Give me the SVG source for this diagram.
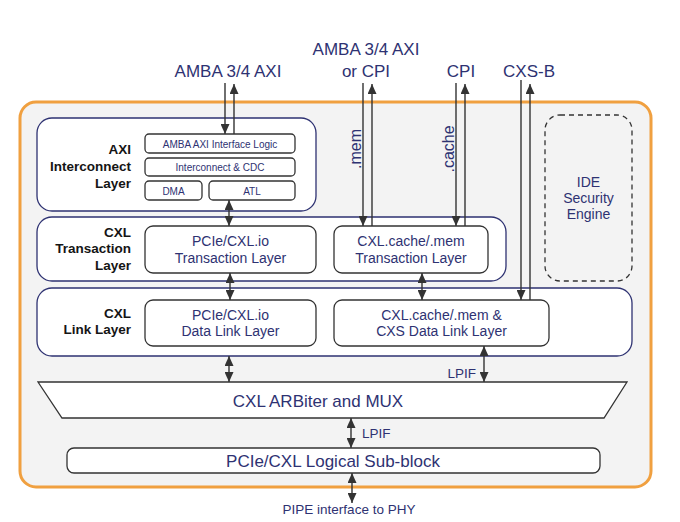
<svg xmlns="http://www.w3.org/2000/svg" width="680" height="522" viewBox="0 0 680 522">
<defs>
<marker id="ah" viewBox="0 0 10 9" refX="10" refY="4.5" markerWidth="10" markerHeight="9" markerUnits="userSpaceOnUse" orient="auto-start-reverse">
<path d="M0,0 L10,4.5 L0,9 z" fill="#333"/>
</marker>
</defs>
<style>
.t{font-family:"Liberation Sans",Arial,sans-serif;fill:#2e3272}
.b{font-family:"Liberation Sans",Arial,sans-serif;font-weight:bold;fill:#151515;font-size:13.5px;text-anchor:end}
.layer{fill:#fff;stroke:#2e3272;stroke-width:1.3}
.box{fill:#fff;stroke:#333;stroke-width:1.3}
.c{stroke:#333;stroke-width:1.4;fill:none}
.one{marker-end:url(#ah)}
.two{marker-start:url(#ah);marker-end:url(#ah)}
</style>
<rect width="680" height="522" fill="#fff"/>

<g id="outer">
<rect x="20" y="102" width="631" height="385" rx="16" fill="#f3f3f3" stroke="#f0a040" stroke-width="3"/>
</g>

<g id="labels-top">
<text class="t" x="228" y="77" font-size="17" text-anchor="middle">AMBA 3/4 AXI</text>
<text class="t" x="366" y="55" font-size="17" text-anchor="middle">AMBA 3/4 AXI</text>
<text class="t" x="366" y="77" font-size="17" text-anchor="middle">or CPI</text>
<text class="t" x="461" y="77" font-size="17" text-anchor="middle">CPI</text>
<text class="t" x="529" y="77" font-size="17" text-anchor="middle">CXS-B</text>
</g>

<g id="axi-layer">
<rect class="layer" x="37" y="118" width="279" height="93" rx="15"/>
<text class="b" x="131" y="154">AXI</text>
<text class="b" x="131" y="171">Interconnect</text>
<text class="b" x="131" y="188">Layer</text>
</g>
<g id="amba-if">
<rect class="box" x="145" y="134" width="150" height="19" rx="4"/>
<text class="t" x="220" y="147.5" font-size="10" text-anchor="middle">AMBA AXI Interface Logic</text>
</g>
<g id="interconnect">
<rect class="box" x="145" y="158" width="150" height="18" rx="4"/>
<text class="t" x="220" y="171" font-size="10" text-anchor="middle">Interconnect &amp; CDC</text>
</g>
<g id="dma">
<rect class="box" x="145" y="181" width="57" height="19" rx="4"/>
<text class="t" x="173.5" y="194.5" font-size="10" text-anchor="middle">DMA</text>
</g>
<g id="atl">
<rect class="box" x="209" y="181" width="86" height="19" rx="4"/>
<text class="t" x="252" y="194.5" font-size="10" text-anchor="middle">ATL</text>
</g>

<g id="txn-layer">
<rect class="layer" x="37" y="217" width="469" height="64" rx="15"/>
<text class="b" x="131" y="237">CXL</text>
<text class="b" x="131" y="253">Transaction</text>
<text class="b" x="131" y="270">Layer</text>
</g>
<g id="io-txn">
<rect class="box" x="145" y="226" width="171" height="47" rx="8"/>
<text class="t" x="230.5" y="246" font-size="14" text-anchor="middle">PCIe/CXL.io</text>
<text class="t" x="230.5" y="263" font-size="14" text-anchor="middle">Transaction Layer</text>
</g>
<g id="cm-txn">
<rect class="box" x="334" y="226" width="154" height="47" rx="8"/>
<text class="t" x="411" y="246" font-size="14" text-anchor="middle">CXL.cache/.mem</text>
<text class="t" x="411" y="263" font-size="14" text-anchor="middle">Transaction Layer</text>
</g>

<g id="ide">
<rect x="545" y="115" width="87" height="166" rx="15" fill="none" stroke="#333" stroke-width="1.3" stroke-dasharray="5,4"/>
<text class="t" x="588.5" y="187" font-size="14" text-anchor="middle">IDE</text>
<text class="t" x="588.5" y="203" font-size="14" text-anchor="middle">Security</text>
<text class="t" x="588.5" y="219" font-size="14" text-anchor="middle">Engine</text>
</g>

<g id="link-layer">
<rect class="layer" x="37" y="288" width="595" height="68" rx="15"/>
<text class="b" x="131" y="318">CXL</text>
<text class="b" x="131" y="334">Link Layer</text>
</g>
<g id="io-dll">
<rect class="box" x="145" y="300" width="171" height="46" rx="8"/>
<text class="t" x="230.5" y="320" font-size="14" text-anchor="middle">PCIe/CXL.io</text>
<text class="t" x="230.5" y="336" font-size="14" text-anchor="middle">Data Link Layer</text>
</g>
<g id="cm-dll">
<rect class="box" x="334" y="300" width="215" height="46" rx="8"/>
<text class="t" x="441.5" y="320" font-size="14" text-anchor="middle">CXL.cache/.mem &amp;</text>
<text class="t" x="441.5" y="336" font-size="14" text-anchor="middle">CXS Data Link Layer</text>
</g>

<g id="arbiter">
<path d="M38,382 L627,382 L604,418 L62,418 z" fill="#fff" stroke="#333" stroke-width="1.3"/>
<text class="t" x="318" y="407" font-size="17" text-anchor="middle">CXL ARBiter and MUX</text>
</g>

<g id="logical">
<rect class="box" x="67" y="448" width="533" height="25" rx="7"/>
<text class="t" x="333" y="467" font-size="17" text-anchor="middle">PCIe/CXL Logical Sub-block</text>
</g>

<g id="connectors">
<line class="c one" x1="225" y1="83" x2="225" y2="134"/>
<line class="c one" x1="234" y1="134" x2="234" y2="84"/>
<line class="c two" x1="229" y1="200" x2="229" y2="226"/>
<line class="c two" x1="230" y1="273" x2="230" y2="300"/>
<line class="c two" x1="229" y1="356" x2="229" y2="382"/>
<line class="c one" x1="363" y1="83" x2="363" y2="226"/>
<line class="c one" x1="372" y1="226" x2="372" y2="84"/>
<line class="c one" x1="456" y1="83" x2="456" y2="226"/>
<line class="c one" x1="465" y1="226" x2="465" y2="84"/>
<line class="c one" x1="521" y1="80" x2="521" y2="300"/>
<line class="c one" x1="530" y1="300" x2="530" y2="84"/>
<line class="c two" x1="422" y1="273" x2="422" y2="300"/>
<line class="c two" x1="484" y1="346" x2="484" y2="382"/>
<line class="c two" x1="351" y1="418" x2="351" y2="448"/>
<line class="c two" x1="352" y1="473" x2="352" y2="503"/>
<text class="t" font-size="16" text-anchor="middle" transform="translate(361,149) rotate(-90)">.mem</text>
<text class="t" font-size="16" text-anchor="middle" transform="translate(454,149) rotate(-90)">.cache</text>
<text class="t" x="476" y="378" font-size="13.5" text-anchor="end">LPIF</text>
<text class="t" x="362" y="438" font-size="13.5">LPIF</text>
<text class="t" x="349" y="514" font-size="13.5" text-anchor="middle">PIPE interface to PHY</text>
</g>
</svg>
